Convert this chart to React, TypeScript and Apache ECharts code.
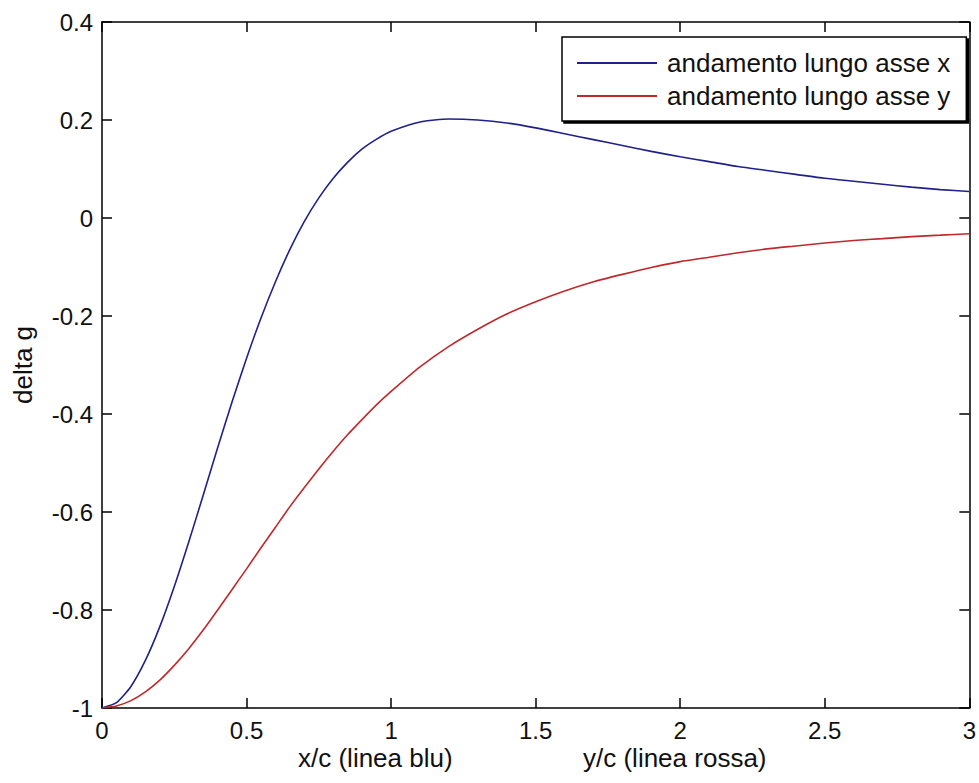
import React, { useEffect, useRef } from "react";
import * as echarts from "echarts";

const xValues = [
  0, 0.05, 0.1, 0.15, 0.2, 0.25, 0.3, 0.35, 0.4, 0.45, 0.5, 0.55, 0.6, 0.65,
  0.7, 0.75, 0.8, 0.85, 0.9, 0.95, 1.0, 1.1, 1.2, 1.3, 1.4, 1.5, 1.6, 1.7, 1.8,
  1.9, 2.0, 2.1, 2.2, 2.3, 2.4, 2.5, 2.6, 2.7, 2.8, 2.9, 3.0,
];
const alongX = [
  -1.0, -0.989, -0.956, -0.903, -0.834, -0.752, -0.661, -0.566, -0.469,
  -0.375, -0.286, -0.204, -0.13, -0.064, -0.007, 0.041, 0.081, 0.114, 0.141,
  0.161, 0.177, 0.196, 0.202, 0.2, 0.194, 0.184, 0.172, 0.16, 0.148, 0.136,
  0.125, 0.115, 0.105, 0.097, 0.089, 0.081, 0.075, 0.069, 0.063, 0.058, 0.054,
];
const alongY = [
  -1.0, -0.996, -0.985, -0.967, -0.943, -0.913, -0.879, -0.841, -0.8, -0.758,
  -0.716, -0.673, -0.631, -0.589, -0.55, -0.512, -0.476, -0.442, -0.411,
  -0.381, -0.354, -0.304, -0.262, -0.227, -0.196, -0.171, -0.149, -0.13,
  -0.115, -0.101, -0.089, -0.08, -0.071, -0.063, -0.057, -0.051, -0.046,
  -0.042, -0.038, -0.035, -0.032,
];
const seriesNames = ["andamento lungo asse x", "andamento lungo asse y"];
const xTitleBlue = "x/c (linea blu)";
const xTitleRed = "y/c (linea rossa)";
const yTitle = "delta g";

const FONT = "'Liberation Sans', Arial, sans-serif";

export default function App() {
  const ref = useRef<HTMLDivElement>(null);
  useEffect(() => {
    if (!ref.current) return;
    const chart = echarts.init(ref.current, undefined, { renderer: "svg" });
    const axisLine = { show: true, onZero: false, lineStyle: { color: "#000", width: 1.5 } };
    const tickIn = { show: true, inside: true, length: 10, lineStyle: { color: "#000", width: 1.5 } };
    chart.setOption({
      animation: false,
      backgroundColor: "#fff",
      textStyle: { fontFamily: FONT },
      grid: { left: 102, right: 6, top: 22, bottom: 75, containLabel: false },
      legend: {
        orient: "vertical",
        left: 562,
        top: 37,
        padding: [13, 16, 12, 15],
        itemGap: 7,
        itemWidth: 80,
        itemHeight: 2,
        icon: "rect",
        backgroundColor: "#fff",
        borderColor: "#000",
        borderWidth: 1.5,
        borderRadius: 0,
        shadowColor: "#000",
        shadowBlur: 0,
        shadowOffsetX: 2,
        shadowOffsetY: 2,
        textStyle: { fontSize: 26, color: "#111", fontFamily: FONT, padding: [0, 0, 0, 5] },
        data: seriesNames,
      },
      xAxis: [
        {
          type: "value",
          min: 0,
          max: 3,
          interval: 0.5,
          position: "bottom",
          axisLine,
          axisTick: tickIn,
          splitLine: { show: false },
          axisLabel: { fontSize: 24, color: "#111", margin: 10, fontFamily: FONT },
        },
        {
          type: "value",
          min: 0,
          max: 3,
          interval: 0.5,
          position: "top",
          axisLine,
          axisTick: tickIn,
          splitLine: { show: false },
          axisLabel: { show: false },
        },
      ],
      yAxis: [
        {
          type: "value",
          min: -1,
          max: 0.4,
          interval: 0.2,
          position: "left",
          axisLine,
          axisTick: tickIn,
          splitLine: { show: false },
          axisLabel: { fontSize: 24, color: "#111", margin: 9, fontFamily: FONT },
          name: yTitle,
          nameLocation: "middle",
          nameRotate: 90,
          nameGap: 66,
          nameTextStyle: { fontSize: 26, color: "#111", fontFamily: FONT },
        },
        {
          type: "value",
          min: -1,
          max: 0.4,
          interval: 0.2,
          position: "right",
          axisLine,
          axisTick: tickIn,
          splitLine: { show: false },
          axisLabel: { show: false },
        },
      ],
      series: [
        {
          name: seriesNames[0],
          type: "line",
          data: xValues.map((x, i) => [x, alongX[i]]),
          showSymbol: false,
          smooth: 0.2,
          lineStyle: { color: "#20208c", width: 1.6 },
          itemStyle: { color: "#20208c" },
          xAxisIndex: 0,
          yAxisIndex: 0,
        },
        {
          name: seriesNames[1],
          type: "line",
          data: xValues.map((x, i) => [x, alongY[i]]),
          showSymbol: false,
          smooth: 0.2,
          lineStyle: { color: "#c0282c", width: 1.6 },
          itemStyle: { color: "#c0282c" },
          xAxisIndex: 0,
          yAxisIndex: 0,
        },
      ],
      graphic: [
        {
          type: "text",
          left: 298,
          top: 745,
          style: { text: xTitleBlue, fontSize: 26, fill: "#111", fontFamily: FONT },
        },
        {
          type: "text",
          left: 583,
          top: 745,
          style: { text: xTitleRed, fontSize: 26, fill: "#111", fontFamily: FONT },
        },
      ],
    });
    return () => chart.dispose();
  }, []);
  return <div ref={ref} style={{ width: 979, height: 783, position: "absolute", left: 0, top: 0 }} />;
}
